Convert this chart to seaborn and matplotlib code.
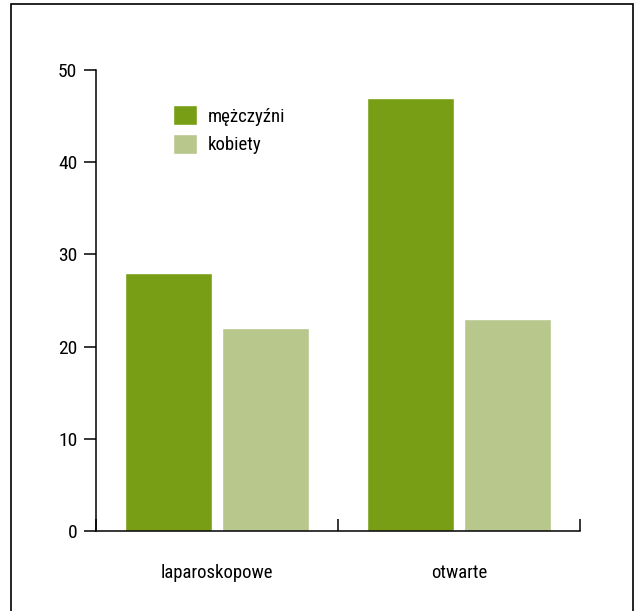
import matplotlib
matplotlib.use("Agg")
import matplotlib.pyplot as plt
from matplotlib import font_manager as fm
import seaborn as sns
import pandas as pd
from matplotlib.patches import Rectangle

categories = ["laparoskopowe", "otwarte"]
series_names = ["mężczyźni", "kobiety"]
men_values = [28, 47]
women_values = [22, 23]
y_ticks = [0, 10, 20, 30, 40, 50]
colors = ["#789E16", "#B8C78C"]

df = pd.DataFrame({
    "kategoria": categories * 2,
    "płeć": [series_names[0]] * 2 + [series_names[1]] * 2,
    "wartość": men_values + women_values,
})

sns.set_style("white")

# pick a condensed/narrow font if one is installed
chosen = None
chosen_stretch = "normal"
prefs = ["Liberation Sans Narrow", "Roboto Condensed", "Open Sans Condensed", "Noto Sans Condensed"]
names = {f.name for f in fm.fontManager.ttflist}
for p in prefs:
    if p in names:
        chosen = p
        break
if chosen is None:
    for f in fm.fontManager.ttflist:
        if f.stretch in ("condensed", "semi-condensed") and f.style == "normal" and f.weight in (400, "normal", "regular"):
            chosen = f.name
            chosen_stretch = f.stretch
            break
if chosen is None:
    chosen = "DejaVu Sans"
plt.rcParams["font.family"] = [chosen, "DejaVu Sans"]
plt.rcParams["font.stretch"] = chosen_stretch
plt.rcParams["text.color"] = "black"
plt.rcParams["xtick.color"] = "black"
plt.rcParams["ytick.color"] = "black"

W, H = 636, 611
fig = plt.figure(figsize=(W / 100, H / 100), dpi=100)
ax = fig.add_axes([96 / W, (H - 531) / H, (580 - 96) / W, (531 - 70) / H])

sns.barplot(data=df, x="kategoria", y="wartość", hue="płeć",
            palette=colors, width=0.8, gap=0.093, ax=ax,
            saturation=1, errorbar=None)

ax.set_xlim(-0.5, 1.5)
ax.set_ylim(0, 50)
ax.set_yticks(y_ticks)
ax.set_yticklabels([str(t) for t in y_ticks], fontsize=14, color="black")
ax.set_xlabel("")
ax.set_ylabel("")
ax.set_xticks([0, 1])
ax.set_xticklabels(categories, fontsize=13.5, color="black")
ax.set_xticks([-0.5, 0.5, 1.5], minor=True)
ax.tick_params(axis="x", which="major", length=0, pad=24)
ax.tick_params(axis="x", which="minor", bottom=True, direction="in", length=8.5,
               width=1.1, color="black")
ax.tick_params(axis="y", direction="out", length=8.5, width=1.1, color="black",
               pad=5, left=True)

for s in ["top", "right"]:
    ax.spines[s].set_visible(False)
for s in ["left", "bottom"]:
    ax.spines[s].set_color("black")
    ax.spines[s].set_linewidth(1.1)

handles, labels = ax.get_legend_handles_labels()
ax.legend(handles, labels, loc="upper left",
          bbox_to_anchor=(173 / W, (H - 105) / H), bbox_transform=fig.transFigure,
          frameon=False, fontsize=13.5, handlelength=1.3, handleheight=1.3,
          labelspacing=0.45, handletextpad=0.55, borderpad=0, borderaxespad=0)

fig.patches.append(Rectangle((10.5 / W, -0.05), (633 - 10.5) / W, (H - 4) / H + 0.05,
                             transform=fig.transFigure, fill=False,
                             edgecolor="black", linewidth=1.2))

fig.savefig("out.png", dpi=100)
